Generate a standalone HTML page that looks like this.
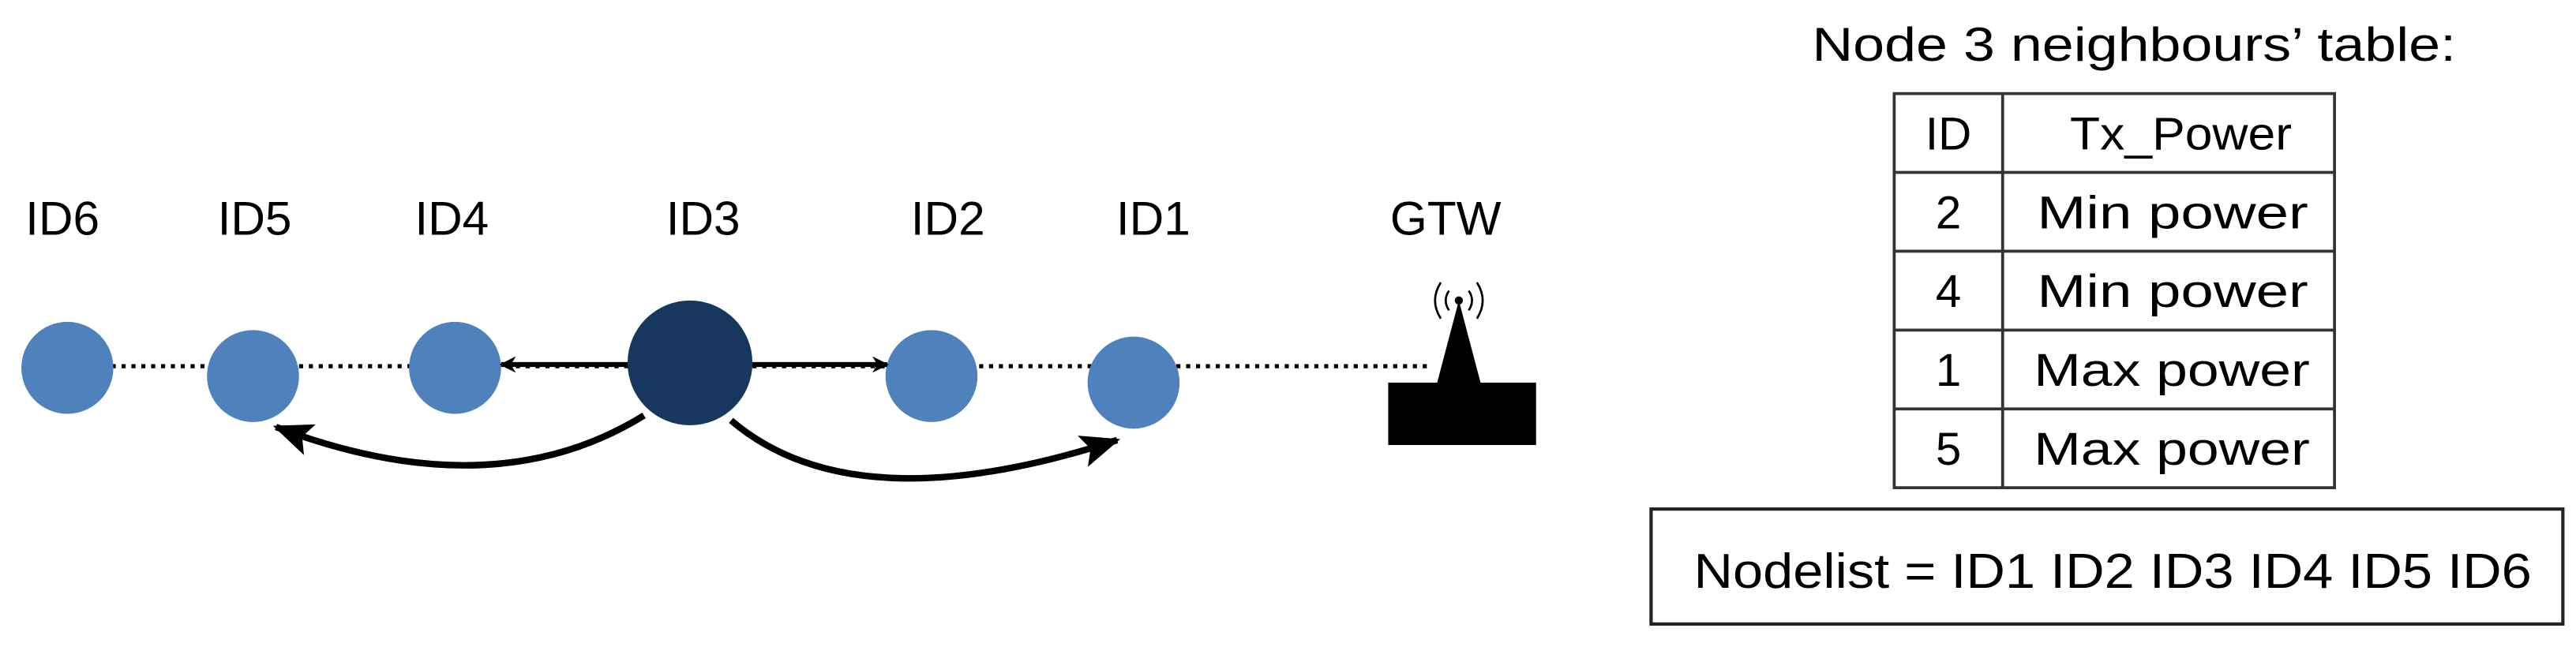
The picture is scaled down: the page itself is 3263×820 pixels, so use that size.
<!DOCTYPE html>
<html><head><meta charset="utf-8"><style>
html,body{margin:0;padding:0;background:#fff;width:3263px;height:820px;overflow:hidden}
svg{display:block}
text{font-family:"Liberation Sans",sans-serif;fill:#000}
</style></head><body>
<svg width="3263" height="820" viewBox="0 0 1568 394" preserveAspectRatio="none" xmlns="http://www.w3.org/2000/svg">
<defs>
<marker id="ah" markerWidth="10" markerHeight="10" refX="9" refY="5" orient="auto" markerUnits="userSpaceOnUse"><path d="M0,0 L10,5 L0,10 L3,5 Z" fill="#000"/></marker>
<marker id="ahb" markerWidth="24" markerHeight="20" refX="22" refY="10" orient="auto" markerUnits="userSpaceOnUse"><path d="M0,0 L24,10 L0,20 L5,10 Z" fill="#000"/></marker>
</defs>
<g font-size="29" text-anchor="middle">
<text x="38" y="143">ID6</text>
<text x="155" y="143">ID5</text>
<text x="275" y="143">ID4</text>
<text x="428" y="143">ID3</text>
<text x="577" y="143">ID2</text>
<text x="702" y="143">ID1</text>
<text x="880" y="143">GTW</text>
</g>
<line x1="68" y1="223" x2="870" y2="223" stroke="#000" stroke-width="2.5" stroke-dasharray="2.5,3.5"/>
<circle cx="41" cy="224" r="28" fill="#4f81bd"/>
<circle cx="154" cy="229" r="28" fill="#4f81bd"/>
<circle cx="277" cy="224" r="28" fill="#4f81bd"/>
<circle cx="567" cy="229" r="28" fill="#4f81bd"/>
<circle cx="690" cy="233" r="28" fill="#4f81bd"/>
<line x1="385" y1="222" x2="305" y2="222" stroke="#000" stroke-width="3" marker-end="url(#ah)"/>
<line x1="455" y1="222" x2="540" y2="222" stroke="#000" stroke-width="3" marker-end="url(#ah)"/>
<circle cx="420" cy="221" r="38" fill="#17375e"/>
<path d="M392,253 Q300,310 168,260" fill="none" stroke="#000" stroke-width="4" marker-end="url(#ahb)"/>
<path d="M445,256 Q520,320 680,268" fill="none" stroke="#000" stroke-width="4" marker-end="url(#ahb)"/>
<rect x="845" y="233" width="90" height="38" fill="#000"/>
<polygon points="888,183 874,236 902,236" fill="#000"/>
<circle cx="888" cy="183" r="2.5" fill="#000"/>
<path d="M882,177 Q878,183 882,189 M894,177 Q898,183 894,189 M877,172 Q870,183 877,194 M899,172 Q906,183 899,194" fill="none" stroke="#000" stroke-width="1.3"/>
<text x="1103" y="37" font-size="29" textLength="392" lengthAdjust="spacingAndGlyphs">Node 3 neighbours’ table:</text>
<g fill="none" stroke="#333" stroke-width="1.8">
<rect x="1153" y="57" width="268" height="240"/>
<line x1="1219" y1="57" x2="1219" y2="297"/>
<line x1="1153" y1="105" x2="1421" y2="105"/>
<line x1="1153" y1="153" x2="1421" y2="153"/>
<line x1="1153" y1="201" x2="1421" y2="201"/>
<line x1="1153" y1="249" x2="1421" y2="249"/>
</g>
<g font-size="28">
<text x="1186" y="91" text-anchor="middle">ID</text><text x="1260" y="91" textLength="135" lengthAdjust="spacingAndGlyphs">Tx_Power</text>
<text x="1186" y="139" text-anchor="middle">2</text><text x="1240" y="139" textLength="165" lengthAdjust="spacingAndGlyphs">Min power</text>
<text x="1186" y="187" text-anchor="middle">4</text><text x="1240" y="187" textLength="165" lengthAdjust="spacingAndGlyphs">Min power</text>
<text x="1186" y="235" text-anchor="middle">1</text><text x="1238" y="235" textLength="168" lengthAdjust="spacingAndGlyphs">Max power</text>
<text x="1186" y="283" text-anchor="middle">5</text><text x="1238" y="283" textLength="168" lengthAdjust="spacingAndGlyphs">Max power</text>
</g>
<rect x="1005" y="310" width="555" height="70" fill="none" stroke="#222" stroke-width="2"/>
<text x="1031" y="358" font-size="30" textLength="510" lengthAdjust="spacingAndGlyphs">Nodelist = ID1 ID2 ID3 ID4 ID5 ID6</text>
</svg>
</body></html>
